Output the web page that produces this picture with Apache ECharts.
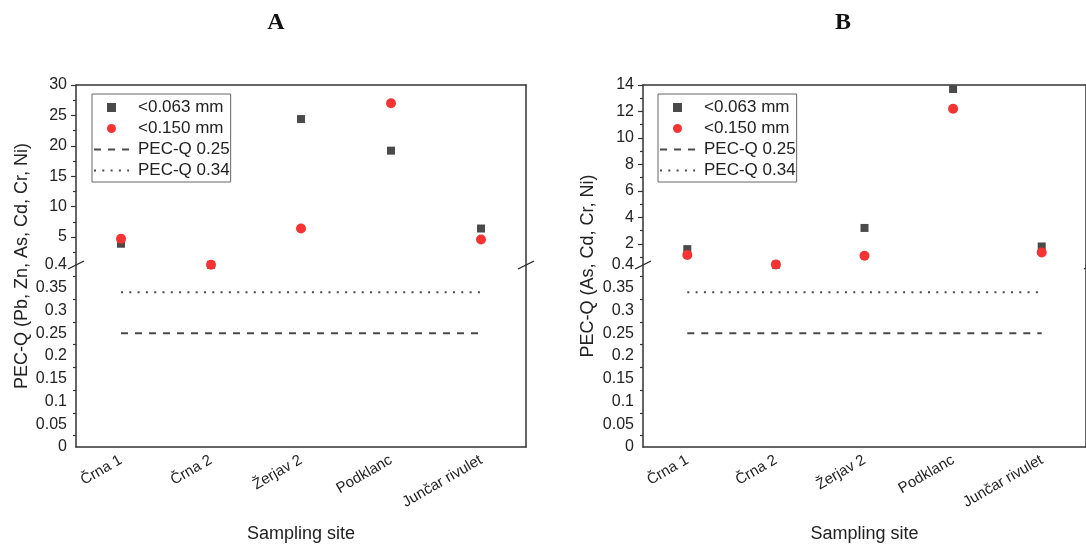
<!DOCTYPE html>
<html>
<head>
<meta charset="utf-8">
<script src="https://cdn.jsdelivr.net/npm/echarts@6/dist/echarts.min.js"></script>
<style>
  html, body { margin: 0; padding: 0; background: #fff; }
  #main { width: 1086px; height: 547px; }
</style>
</head>
<body>
<div id="main"></div>
<script>
// data
var sites = ['Črna 1', 'Črna 2', 'Žerjav 2', 'Podklanc', 'Junčar rivulet'];
var fineA = [3.9, 0.42, 24.4, 19.2, 6.4];     // <0.063 mm, panel A
var coarseA = [4.7, 0.44, 6.4, 27.0, 4.6];    // <0.150 mm, panel A
var fineB = [1.6, 0.42, 3.2, 13.7, 1.8];      // <0.063 mm, panel B
var coarseB = [1.15, 0.44, 1.1, 12.2, 1.35];  // <0.150 mm, panel B
var pec025 = [0.25, 0.25, 0.25, 0.25, 0.25];
var pec034 = [0.34, 0.34, 0.34, 0.34, 0.34];

// upper (broken) segment ticks
var upperTicksA = [5, 10, 15, 20, 25, 30];
var upperMinorA = [2.5, 7.5, 12.5, 17.5, 22.5, 27.5];
var upperTicksB = [2, 4, 6, 8, 10, 12, 14];
var upperMinorB = [1, 3, 5, 7, 9, 11, 13];

var font = "'Liberation Sans', Arial, sans-serif";
var txt = '#222';
var axisCol = '#333';

// panel layout
var panels = [
  { left: 76, width: 450, max: 30, ticks: upperTicksA, minor: upperMinorA, fine: fineA, coarse: coarseA,
    title: 'A', titleX: 271, legendX: 92, yName: 'PEC-Q (Pb, Zn, As, Cd, Cr, Ni)', yNameX: 22 },
  { left: 643, width: 449, max: 14, ticks: upperTicksB, minor: upperMinorB, fine: fineB, coarse: coarseB,
    title: 'B', titleX: 838, legendX: 658, yName: 'PEC-Q (As, Cd, Cr, Ni)', yNameX: 588 }
];
var topY = 85, breakY = 265, bottomY = 447;

var grid = [], xAxis = [], yAxis = [], series = [], title = [], legend = [], graphic = [];

panels.forEach(function (p, i) {
  var gU = grid.length;
  grid.push({ left: p.left, width: p.width, top: topY, height: breakY - topY });
  var gL = grid.length;
  grid.push({ left: p.left, width: p.width, top: breakY, height: bottomY - breakY });

  // upper x axis: only the top frame line
  var xU = xAxis.length;
  xAxis.push({ type: 'category', gridIndex: gU, data: sites, position: 'top',
    axisLine: { onZero: false, lineStyle: { color: axisCol, width: 1.5 } },
    axisTick: { show: false }, axisLabel: { show: false } });
  // lower x axis with labels
  var xL = xAxis.length;
  xAxis.push({ type: 'category', gridIndex: gL, data: sites, position: 'bottom',
    name: 'Sampling site', nameLocation: 'middle', nameGap: 78,
    nameTextStyle: { fontFamily: font, fontSize: 18, color: txt },
    axisLine: { onZero: false, lineStyle: { color: axisCol, width: 1.5 } },
    axisTick: { alignWithLabel: true, length: 6, lineStyle: { color: axisCol, width: 1.5 } },
    axisLabel: { rotate: 30, margin: 12, fontFamily: font, fontSize: 15, color: txt } });
  // minor ticks between categories
  xAxis.push({ type: 'category', gridIndex: gL, data: sites, position: 'bottom',
    axisLine: { show: false, onZero: false }, axisLabel: { show: false },
    axisTick: { length: 3, lineStyle: { color: axisCol, width: 1.2 } } });

  var yU = yAxis.length;
  yAxis.push({ type: 'value', gridIndex: gU, min: 0.4, max: p.max, position: 'left',
    splitLine: { show: false },
    axisLine: { show: true, onZero: false, lineStyle: { color: axisCol, width: 1.5 } },
    axisTick: { show: true, customValues: p.ticks, length: 5, lineStyle: { color: axisCol, width: 1.2 } },
    axisLabel: { customValues: p.ticks, margin: 9, fontFamily: font, fontSize: 16, color: txt } });
  yAxis.push({ type: 'value', gridIndex: gU, min: 0.4, max: p.max, position: 'left',
    splitLine: { show: false }, axisLine: { show: false, onZero: false }, axisLabel: { show: false },
    axisTick: { show: true, customValues: p.minor, length: 3, lineStyle: { color: axisCol, width: 1.2 } } });
  yAxis.push({ type: 'value', gridIndex: gU, position: 'right', splitLine: { show: false },
    axisLine: { show: true, onZero: false, lineStyle: { color: axisCol, width: 1.5 } },
    axisTick: { show: false }, axisLabel: { show: false } });
  var yL = yAxis.length;
  yAxis.push({ type: 'value', gridIndex: gL, min: 0, max: 0.4, interval: 0.05, position: 'left',
    splitLine: { show: false },
    axisLine: { show: true, onZero: false, lineStyle: { color: axisCol, width: 1.5 } },
    axisTick: { length: 5, lineStyle: { color: axisCol, width: 1.2 } },
    minorTick: { show: true, splitNumber: 2, length: 3, lineStyle: { color: axisCol, width: 1.2 } },
    axisLabel: { margin: 9, fontFamily: font, fontSize: 16, color: txt } });
  yAxis.push({ type: 'value', gridIndex: gL, position: 'right', splitLine: { show: false },
    axisLine: { show: true, onZero: false, lineStyle: { color: axisCol, width: 1.5 } },
    axisTick: { show: false }, axisLabel: { show: false } });

  series.push({ name: '<0.063 mm', type: 'scatter', xAxisIndex: xU, yAxisIndex: yU, data: p.fine,
    symbol: 'rect', symbolSize: 8, itemStyle: { color: '#4a4a4a', opacity: 1 }, z: 3 });
  series.push({ name: '<0.150 mm', type: 'scatter', xAxisIndex: xU, yAxisIndex: yU, data: p.coarse,
    symbol: 'circle', symbolSize: 10, itemStyle: { color: '#f53333', opacity: 1 }, z: 4 });
  series.push({ name: 'PEC-Q 0.25', type: 'line', xAxisIndex: xL, yAxisIndex: yL, data: pec025,
    symbol: 'none', itemStyle: { color: '#4a4a4a' }, lineStyle: { color: '#4a4a4a', width: 2, type: [7, 7] } });
  series.push({ name: 'PEC-Q 0.34', type: 'line', xAxisIndex: xL, yAxisIndex: yL, data: pec034,
    symbol: 'none', itemStyle: { color: '#4a4a4a' }, lineStyle: { color: '#4a4a4a', width: 2, type: [2, 6.3] } });

  title.push({ text: p.title, left: p.titleX, top: 6, textAlign: 'center',
    textStyle: { fontFamily: "'Liberation Serif', 'DejaVu Serif', serif", fontWeight: 'bold', fontSize: 24, color: '#111' } });

  legend.push({ left: p.legendX, top: 94, orient: 'vertical', itemWidth: 35, itemHeight: 9, itemGap: 4,
    padding: [5, 1, 3, 1], borderColor: '#666', borderWidth: 1, selectedMode: false, symbolKeepAspect: true,
    textStyle: { fontFamily: font, fontSize: 17, color: txt, padding: [0, 0, 0, 4] },
    data: [
      { name: '<0.063 mm', icon: 'path://M0,0H8V8H0Z' },
      { name: '<0.150 mm', icon: 'circle' },
      { name: 'PEC-Q 0.25', itemStyle: { opacity: 0 } },
      { name: 'PEC-Q 0.34', itemStyle: { opacity: 0 } }
    ] });

  graphic.push({ type: 'text', x: p.yNameX, y: (topY + bottomY) / 2, rotation: Math.PI / 2,
    style: { text: p.yName, font: '18px ' + font, fill: txt, align: 'center', verticalAlign: 'middle' } });
  // axis break marks
  [p.left, p.left + p.width].forEach(function (bx) {
    graphic.push({ type: 'line', shape: { x1: bx - 8, y1: breakY + 4, x2: bx + 8, y2: breakY - 4 },
      style: { stroke: '#222', lineWidth: 1.3 } });
  });
});

var chart = echarts.init(document.getElementById('main'));
chart.setOption({
  animation: false,
  backgroundColor: '#fff',
  title: title,
  legend: legend,
  grid: grid,
  xAxis: xAxis,
  yAxis: yAxis,
  series: series,
  graphic: graphic
});
</script>
</body>
</html>
